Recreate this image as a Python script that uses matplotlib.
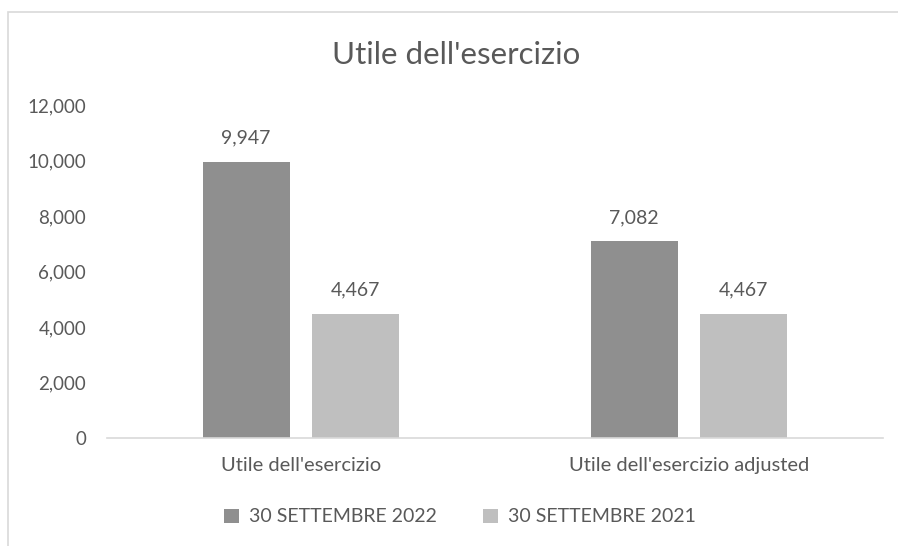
import matplotlib
matplotlib.use("Agg")
import matplotlib.pyplot as plt
from matplotlib.patches import Rectangle
from matplotlib.ticker import FuncFormatter
import numpy as np

categories = ["Utile dell'esercizio", "Utile dell'esercizio adjusted"]
series_names = ["30 SETTEMBRE 2022", "30 SETTEMBRE 2021"]
values_2022 = [9947, 7082]
values_2021 = [4467, 4467]
title = "Utile dell'esercizio"
y_ticks = [0, 2000, 4000, 6000, 8000, 10000, 12000]

plt.rcParams['font.family'] = ['Lato', 'DejaVu Sans']
TXT = '#595959'
C1 = '#8f8f8f'
C2 = '#bfbfbf'

W, H = 898, 546
fig = plt.figure(figsize=(W/100, H/100), dpi=100)
fig.patch.set_facecolor('white')

# chart border
fig.patches.append(Rectangle((8/W, -0.1), 1.2, (H-12)/H + 0.1, transform=fig.transFigure,
                             fill=False, edgecolor='#d9d9d9', linewidth=1.2))

ax = fig.add_axes([107/W, (H-438)/H, 776/W, (438-105)/H])
x = np.arange(len(categories))
bw = 0.224
gap = 0.059
off = (bw + gap) / 2
b1 = ax.bar(x - off, values_2022, bw, color=C1, label=series_names[0])
b2 = ax.bar(x + off, values_2021, bw, color=C2, label=series_names[1])

for bars in (b1, b2):
    for r in bars:
        ax.annotate(f"{int(r.get_height()):,}", (r.get_x() + r.get_width()/2, r.get_height()),
                    xytext=(0, 11), textcoords='offset points', ha='center', va='bottom',
                    fontsize=14, color=TXT)

ax.set_xlim(-0.5, 1.5)
ax.set_ylim(0, 12000)
ax.set_yticks(y_ticks)
ax.yaxis.set_major_formatter(FuncFormatter(lambda v, p: f"{int(v):,}"))
ax.set_xticks(x)
ax.set_xticklabels(categories)
ax.tick_params(axis='both', length=0, colors=TXT)
ax.tick_params(axis='y', pad=15, labelsize=13.5)
ax.tick_params(axis='x', pad=14, labelsize=14.5)
for s in ('top', 'right', 'left'):
    ax.spines[s].set_visible(False)
ax.spines['bottom'].set_color('#d9d9d9')
ax.spines['bottom'].set_linewidth(1.2)

fig.text(456/W, 1 - 55/H, title, ha='center', va='center', fontsize=22.5, color=TXT)

leg = fig.legend(handles=[b1, b2], loc='center', bbox_to_anchor=(460/W, 1 - 517/H), ncol=2,
                 frameon=False, fontsize=14, labelcolor=TXT, handlelength=0.75, handleheight=0.75,
                 columnspacing=2.4, handletextpad=0.5)

fig.savefig('out.png', dpi=100, facecolor='white')
